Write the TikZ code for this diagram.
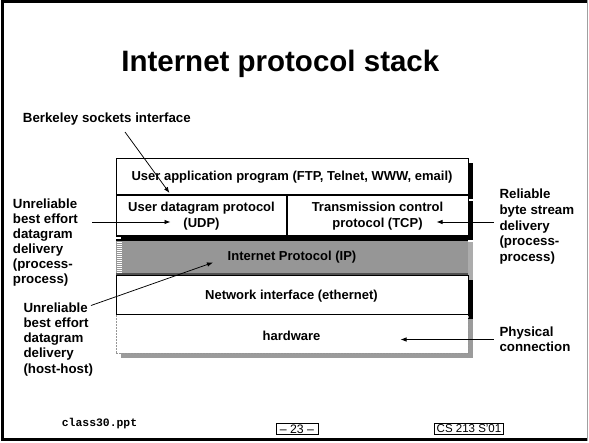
\documentclass[tikz,border=0pt]{standalone}
\usepackage{fontspec}
\setmainfont{Liberation Sans}
\setmonofont{Liberation Mono}
\usetikzlibrary{arrows.meta}
\definecolor{ipgray}{RGB}{150,150,150}
\definecolor{ipshadow}{RGB}{172,172,172}
\definecolor{hwshadow}{RGB}{155,155,155}
\definecolor{ipdark}{RGB}{80,80,80}
\definecolor{hwdash}{RGB}{150,150,150}
\definecolor{framegray}{RGB}{160,160,160}
\tikzset{
  lbl/.style={font=\bfseries\fontsize{13.3}{15}\selectfont, inner sep=0pt, align=left},
  rowlbl/.style={font=\bfseries\fontsize{13}{16}\selectfont, inner sep=0pt, align=center},
  arr/.style={-{Latex[length=6pt,width=4.5pt]}, line width=0.75pt},
  foot/.style={font=\fontsize{11.5}{13}\selectfont, inner xsep=2.6pt, inner ysep=1.5pt, draw, line width=0.8pt}
}
\begin{document}
\begin{tikzpicture}[x=1pt,y=-1pt]
\useasboundingbox (0,0) rectangle (589,442);
% frame
\draw[line width=3pt] (587,1.7) -- (2.7,1.7) -- (2.7,439) -- (587,439);
\draw[framegray, line width=1pt] (587.8,0) -- (587.8,440.5);
% title
\node[font=\bfseries\fontsize{29.5}{34}\selectfont, inner sep=0pt, anchor=base] (title) at (280.3,71.7) {Internet protocol stack};
% shadows
\fill[black] (120.5,162.5) rectangle (472.8,198.5);
\fill[black] (120.5,200.5) rectangle (472.8,240);
\fill[ipshadow] (120.5,241.5) rectangle (472.8,280);
\fill[black] (120.5,280) rectangle (472.8,319);
\fill[hwshadow] (120.5,318.5) rectangle (472.8,357.5);
% rows
\node[draw=hwdash, dash pattern=on 2pt off 1pt, fill=white, line width=0.8pt, minimum width=352pt, minimum height=39pt, inner sep=0pt] (hw) at (292,333.5) {};
\node[draw, fill=white, line width=1pt, minimum width=352pt, minimum height=39pt, inner sep=0pt] (net) at (292,294.5) {};
\fill[ipgray] (116,239) rectangle (468,274.5);
\node[inner sep=0pt, minimum width=352pt, minimum height=35pt] (ip) at (292,257) {};
\draw[ipdark, line width=2pt] (116,274) -- (468,274);
\foreach \yy in {242,244,...,272} \draw[white, line width=0.9pt] (116.5,\yy) -- (121.5,\yy);
\node[draw, fill=white, line width=1pt, minimum width=352pt, minimum height=42pt, inner sep=0pt] (tr) at (292,215.5) {};
\node[draw, fill=white, line width=1pt, minimum width=352pt, minimum height=36.5pt, inner sep=0pt] (app) at (292,176.25) {};
\draw[line width=2.6pt] (116,194.8) -- (468,194.8);
\draw[line width=1.6pt] (116,236.2) -- (468,236.2);
\draw[line width=1.6pt] (116,240) -- (468,240);
\draw[line width=2pt] (287,194.5) -- (287,236.5);
% row labels
\node[rowlbl] (appl) at (292,177) {User application program (FTP, Telnet, WWW, email)};
\node[rowlbl] (udpl) at (201.5,216) {User datagram protocol\\(UDP)};
\node[rowlbl] (tcpl) at (377.5,216) {Transmission control\\protocol (TCP)};
\node[rowlbl] (ipl) at (292,257.5) {Internet Protocol (IP)};
\node[rowlbl] (netl) at (291.5,296) {Network interface (ethernet)};
\node[rowlbl] (hwl) at (291.5,335.5) {hardware};
% side labels
\node[lbl, anchor=base west] (berk) at (22.7,122.7) {Berkeley sockets interface};
\node[lbl, anchor=north west] (ul1) at (12.7,198.8) {Unreliable\\best effort\\datagram\\delivery\\(process-\\process)};
\node[lbl, anchor=north west, font=\bfseries\fontsize{13.3}{15.3}\selectfont] (ul2) at (23.3,302.2) {Unreliable\\best effort\\datagram\\delivery\\(host-host)};
\node[lbl, anchor=north west, font=\bfseries\fontsize{13.3}{15.7}\selectfont] (rl) at (499.3,189) {Reliable\\byte stream\\delivery\\(process-\\process)};
\node[lbl, anchor=north west] (phys) at (499.3,326.3) {Physical\\connection};
% arrow anchors
\coordinate (b0) at (125,132);
\coordinate (b1) at (169.5,193);
\coordinate (u0) at (92,222);
\coordinate (u1) at (170.5,222);
\coordinate (t0) at (493.5,222);
\coordinate (t1) at (436.5,222);
\coordinate (i0) at (91,305.5);
\coordinate (i1) at (213,262.5);
\coordinate (h0) at (493.5,339.5);
\coordinate (h1) at (400.5,339.5);
\draw[arr] (b0) -- (b1);
\draw[arr] (u0) -- (u1);
\draw[arr] (t0) -- (t1);
\draw[arr] (i0) -- (i1);
\draw[arr] (h0) -- (h1);
% footer
\node[font=\ttfamily\bfseries\fontsize{11.4}{13}\selectfont, inner sep=0pt, anchor=base west] (file) at (61.7,426) {class30.ppt};
\node[foot, minimum width=42pt, font=\fontsize{12.3}{13}\selectfont] (page) at (297,428.8) {-- 23 --};
\node[foot] (course) at (469,428.8) {CS 213 S'01};
\end{tikzpicture}
\end{document}
